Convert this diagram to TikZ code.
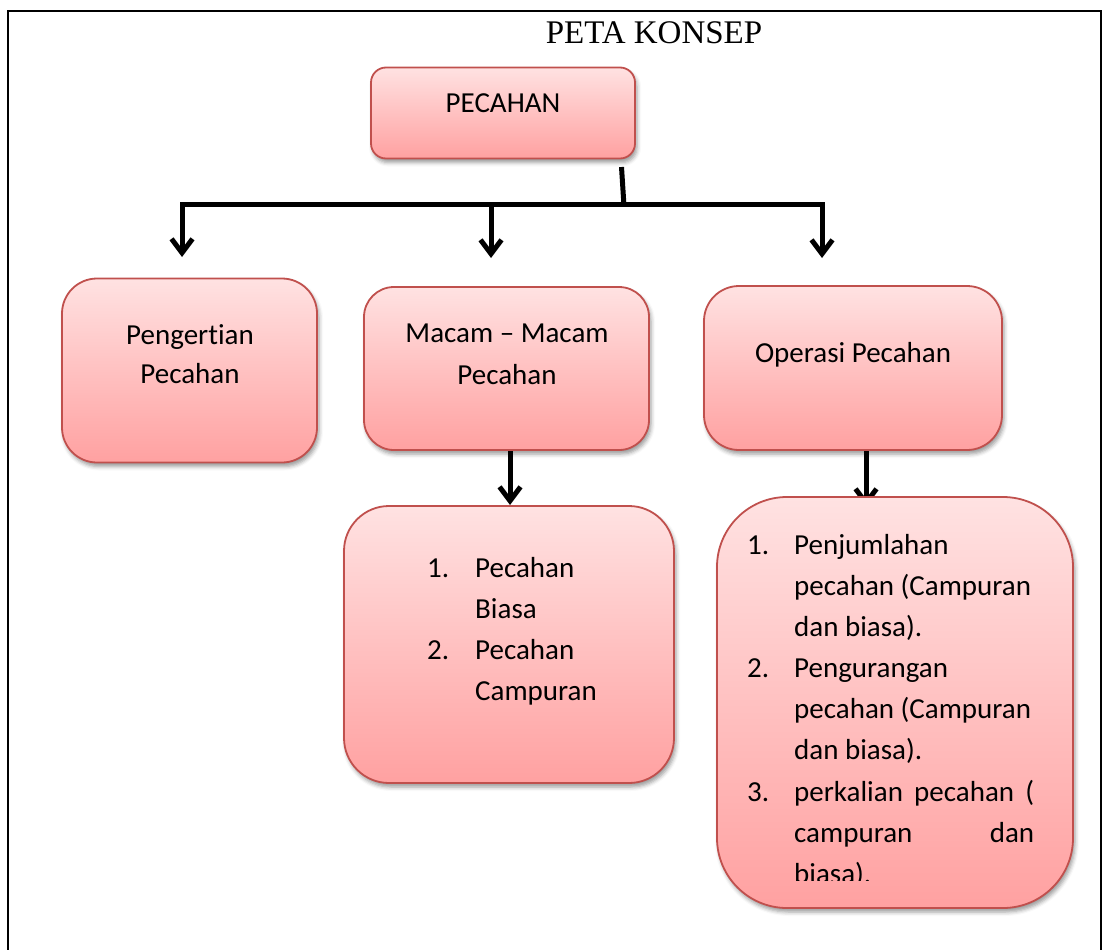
\documentclass[tikz,border=0pt]{standalone}
\usepackage{fontspec}
\setmainfont{Carlito}[Ligatures=NoCommon]
\newfontfamily\titlefont{Liberation Serif}
\usetikzlibrary{arrows.meta,shadows.blur}
\pgfdeclarelayer{bg}
\pgfsetlayers{bg,main}
\definecolor{bordr}{HTML}{C0504D}
\definecolor{ptop}{HTML}{FFE2E2}
\definecolor{pmid}{HTML}{FFC1C1}
\definecolor{pbot}{HTML}{FFA1A1}
\tikzset{
  pinkbox/.style={draw=bordr, line width=1.8pt, top color=ptop, bottom color=pbot, middle color=pmid,
    blur shadow={shadow xshift=2pt, shadow yshift=-4pt, shadow blur radius=4pt, shadow opacity=40},
    inner sep=0pt},
  txt/.style={inner sep=0pt, font=\fontsize{29}{41}\selectfont, anchor=base},
  ltxt/.style={inner sep=0pt, font=\fontsize{29}{41}\selectfont, anchor=base west},
  conn/.style={line width=5pt, black},
  tip/.tip={Straight Barb[length=14pt, width=21pt]},
  frame/.style={line width=2pt, black}
}
\begin{document}
\begin{tikzpicture}[x=1pt,y=-1pt]
\useasboundingbox (0,0) rectangle (1103,950);
\draw[frame] (8,951) -- (8,11) -- (1101,11) -- (1101,951);
\node[inner sep=0pt, anchor=base, font=\titlefont\fontsize{33}{36}\selectfont] (title) at (654,44) {PETA KONSEP};

% boxes
\node[pinkbox, rounded corners=15pt, minimum width=264pt, minimum height=91pt] (pecahan) at (503,113) {};
\node[pinkbox, rounded corners=35pt, minimum width=255pt, minimum height=184pt] (peng) at (189.5,370.5) {};
\node[pinkbox, rounded corners=30pt, minimum width=285pt, minimum height=163pt] (macam) at (506.5,368.5) {};
\node[pinkbox, rounded corners=35pt, minimum width=298pt, minimum height=164pt] (operasi) at (853,368) {};
\node[pinkbox, rounded corners=45pt, minimum width=330pt, minimum height=277pt] (macamlist) at (509,644.5) {};
\node[pinkbox, rounded corners=70pt, minimum width=356pt, minimum height=411pt] (oplist) at (895,702.5) {};

% texts
\node[txt] (tpecahan) at (503,112) {PECAHAN};
\node[txt] (tpeng1) at (190,344) {Pengertian};
\node[txt] (tpeng2) at (190,383) {Pecahan};
\node[txt] (tmacam1) at (507,342) {Macam – Macam};
\node[txt] (tmacam2) at (507,384) {Pecahan};
\node[txt] (toperasi) at (853,362) {Operasi Pecahan};

\node[ltxt] (mn1) at (427,577) {1.};
\node[ltxt] (ma1) at (475,577) {Pecahan};
\node[ltxt] (ma2) at (475,618) {Biasa};
\node[ltxt] (mn2) at (427,659) {2.};
\node[ltxt] (mb1) at (475,659) {Pecahan};
\node[ltxt] (mb2) at (475,700) {Campuran};

\node[ltxt] (on1) at (747,554) {1.};
\node[ltxt] (oa1) at (794,554) {Penjumlahan};
\node[ltxt] (oa2) at (794,595) {pecahan (Campuran};
\node[ltxt] (oa3) at (794,636) {dan biasa).};
\node[ltxt] (on2) at (747,677) {2.};
\node[ltxt] (ob1) at (794,677) {Pengurangan};
\node[ltxt] (ob2) at (794,718) {pecahan (Campuran};
\node[ltxt] (ob3) at (794,759) {dan biasa).};
\node[ltxt] (on3) at (747,801) {3.};
\node[ltxt] (oc1) at (794,801) {\makebox[240pt][s]{perkalian pecahan (}};
\node[ltxt] (oc2) at (794,842) {\makebox[240pt][s]{campuran\hfill dan}};
\begin{scope}
\clip (780,850) rectangle (960,880);
\node[ltxt] (oc3) at (794,883) {biasa).};
\end{scope}

% connectors
\coordinate (stubtop) at (621.5,167);
\coordinate (stubbot) at (624,206);
\coordinate (cL) at (182,204);
\coordinate (cR) at (822,204);
\coordinate (cM) at (491,204);
\coordinate (tL) at (182,257);
\coordinate (tR) at (822,258);
\coordinate (tM) at (491,258);
\coordinate (mtop) at (510,450);
\coordinate (mtip) at (510,505);
\coordinate (otop) at (866,451);
\coordinate (otip) at (866,507);
\begin{pgfonlayer}{bg}
\draw[conn] (stubtop) -- (stubbot);
\draw[conn, {tip}-{tip}] (tL) -- (cL) -- (cR) -- (tR);
\draw[conn, -{tip}] (cM) -- (tM);
\draw[conn, -{tip}] (mtop) -- (mtip);
\draw[conn, -{tip}] (otop) -- (otip);
\end{pgfonlayer}
\end{tikzpicture}
\end{document}
